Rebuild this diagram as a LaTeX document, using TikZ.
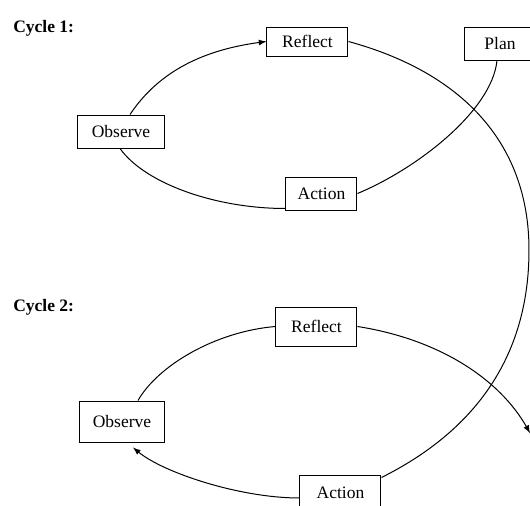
\documentclass[tikz,border=0pt]{standalone}
\usepackage{fontspec}
\setmainfont{Liberation Serif}
\begin{document}
\begin{tikzpicture}[x=0.6pt,y=-0.6pt,>=latex,
    stage/.style={draw,line width=0.6pt,inner sep=0pt,font=\fontsize{10.5}{12}\selectfont},
    cyclename/.style={anchor=west,inner sep=0pt,font=\bfseries\fontsize{10.5}{12}\selectfont},
    link/.style={line width=0.6pt}]
    \useasboundingbox (0,0) rectangle (530,506);
    % cycle 1
    \node[cyclename] (cyc1) at (13,28) {Cycle 1:};
    \node[stage,minimum width=48.6pt,minimum height=17.4pt] (ref1) at (307.5,41.5) {Reflect};
    \node[stage,minimum width=42pt,minimum height=19.8pt] (plan1) at (500,43.5) {Plan};
    \node[stage,minimum width=52.8pt,minimum height=19.8pt] (obs1) at (121,131.5) {Observe};
    \node[stage,minimum width=42.6pt,minimum height=19.8pt] (act1) at (321.5,193.5) {Action};
    \draw[link,->] ([xshift=5.4pt]obs1.north) .. controls +(30,-45) and +(-60,8) .. (ref1.west);
    \draw[link] ([xshift=-0.6pt]obs1.south) .. controls +(25,35) and +(-70,0) .. ([yshift=1.2pt]act1.south west);
    \draw[link] (act1.east) .. controls +(60,-25) and +(-5,50) .. ([xshift=-1.8pt]plan1.south);
    % cycle 2
    \node[cyclename] (cyc2) at (13,307) {Cycle 2:};
    \node[stage,minimum width=48.6pt,minimum height=23.4pt] (ref2) at (316.5,326.5) {Reflect};
    \node[stage,minimum width=51.6pt,minimum height=24.6pt] (obs2) at (122,421.5) {Observe};
    \node[stage,minimum width=48.6pt,minimum height=21pt] (act2) at (340.5,492.5) {Action};
    \coordinate (next2) at (530,433);
    \draw[link] ([xshift=9.6pt]obs2.north) .. controls +(20,-35) and +(-60,5) .. (ref2.west);
    \draw[link,->] (ref2.east) .. controls +(83,13) and +(-30,-53) .. (next2);
    \draw[link,->] ([yshift=-3.3pt]act2.west) .. controls +(-60,0) and +(30,25) .. ([xshift=6.6pt,yshift=-3pt]obs2.south);
    % from cycle 1 into cycle 2
    \draw[link] (ref1.east) .. controls +(110,30) and +(0,-110) .. (529,250)
        .. controls +(0,110) and +(90,-45) .. ([yshift=-1.8pt]act2.north east);
\end{tikzpicture}
\end{document}
